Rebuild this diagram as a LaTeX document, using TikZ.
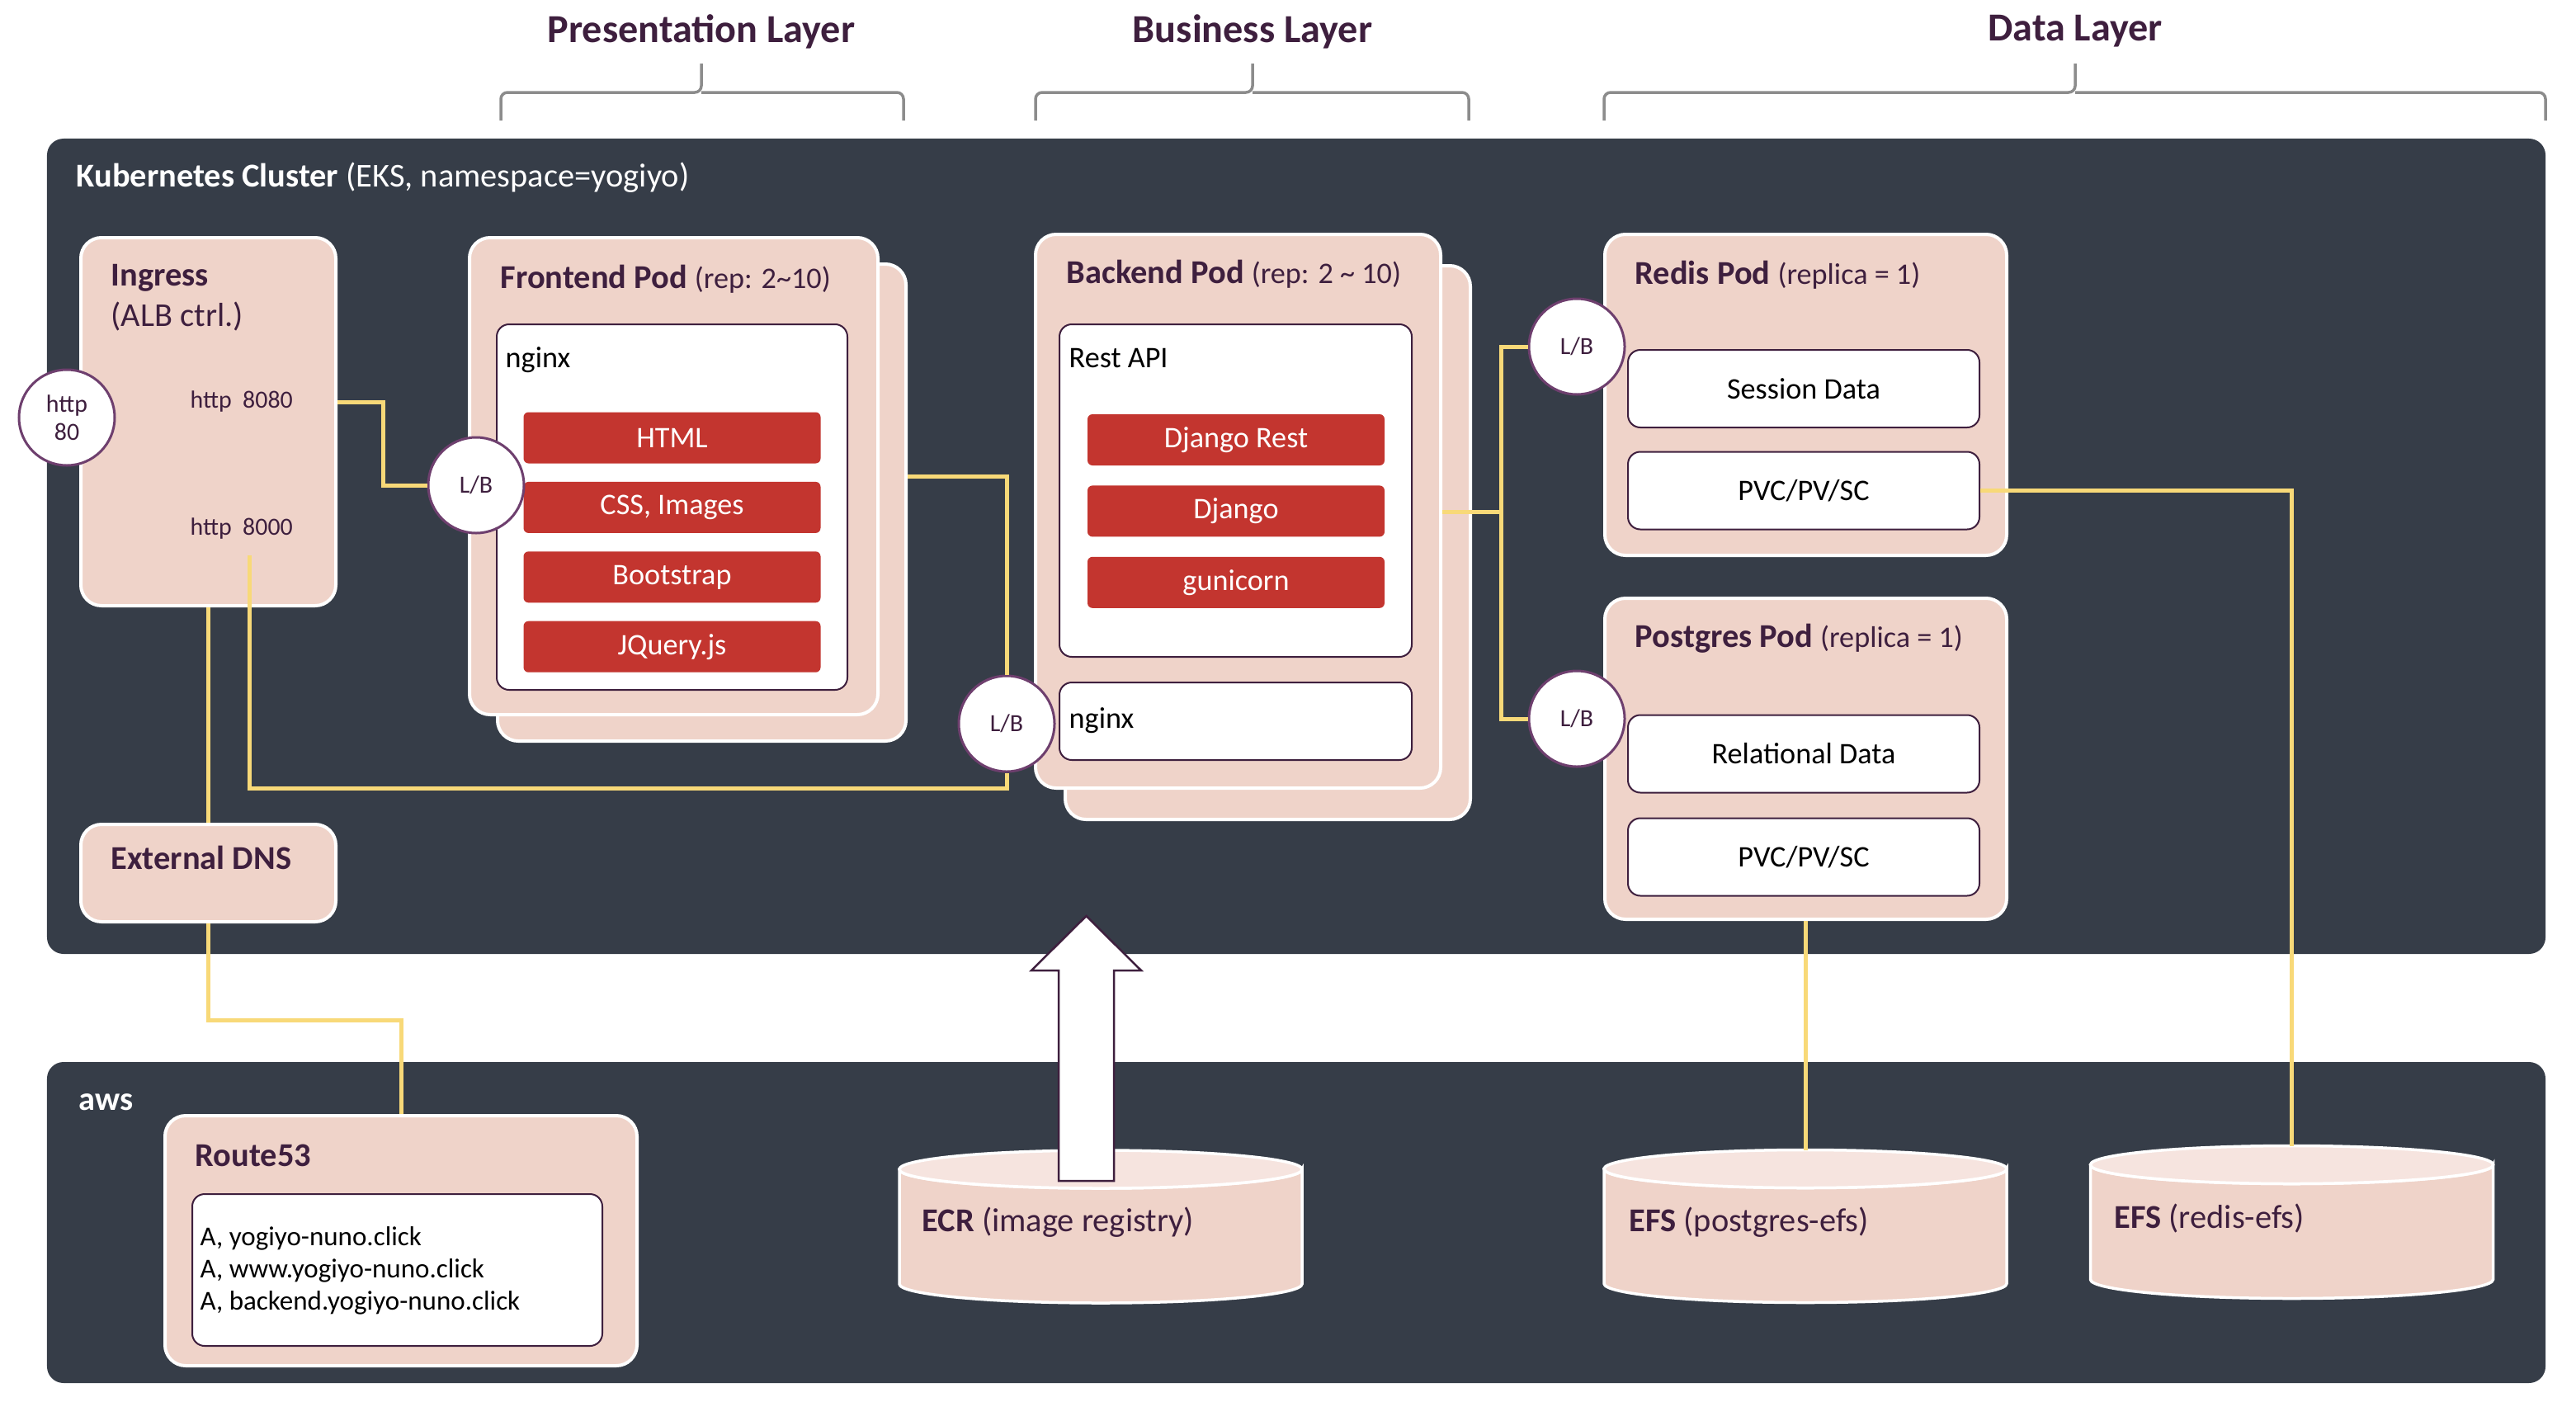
\documentclass[tikz,border=0pt]{standalone}
\usepackage{fontspec}
\setmainfont{Carlito}
\usetikzlibrary{positioning}
\usetikzlibrary{calc}

\definecolor{panelc}{HTML}{363D48}
\definecolor{podc}{HTML}{EFD3C9}
\definecolor{podtopc}{HTML}{F6E4DF}
\definecolor{plum}{HTML}{3E1F3E}
\definecolor{lbedge}{HTML}{6E3F6E}
\definecolor{wirec}{HTML}{F8D978}
\definecolor{redc}{HTML}{C3352F}
\definecolor{bracec}{HTML}{8C8C8C}

\newcommand{\fnsmall}{\fontsize{8.5}{9.6}\selectfont}
\newcommand{\fnnorm}{\fontsize{10.3}{12.4}\selectfont}
\newcommand{\fntitle}{\fontsize{11.5}{13.9}\selectfont}
\newcommand{\fnlayer}{\fontsize{13.7}{16}\selectfont}
\newcommand{\fnrec}{\fontsize{9.4}{11.1}\selectfont}

\tikzset{
panelbox/.style={fill=panelc, rounded corners=2mm, inner sep=0},
paneltext/.style={text=white, font=\fntitle, inner sep=0},
podbox/.style={fill=podc, draw=white, line width=0.4mm, rounded corners=2.5mm, inner sep=0},
podtitle/.style={text=plum, font=\fntitle, inner sep=0, align=left},
whitebox/.style={fill=white, draw=plum, line width=0.2mm, rounded corners=1.5mm, inner sep=0, font=\fnnorm},
boxtext/.style={text=black, font=\fnnorm, inner sep=0},
redbox/.style={fill=redc, rounded corners=0.6mm, text=white, font=\fnnorm,
	minimum width=36mm, minimum height=6.2mm, inner sep=0},
lb/.style={circle, draw=lbedge, fill=white, line width=0.3mm, minimum size=11.6mm,
	inner sep=0, text=plum, font=\fnsmall, align=center},
port/.style={text=plum, font=\fnsmall, inner sep=0},
wire/.style={draw=wirec, line width=0.5mm},
brace/.style={draw=bracec, line width=0.35mm, rounded corners=0.8mm},
layer/.style={text=plum, font=\fnlayer\bfseries, inner sep=0},
dbbox/.style={minimum width=48.8mm, minimum height=18.5mm, inner sep=0, outer sep=0},
dbtext/.style={text=plum, font=\fntitle, inner sep=0},
cylbody/.style={fill=podc, draw=white, line width=0.35mm},
cyltop/.style={fill=podtopc, draw=white, line width=0.35mm},
bigarrow/.style={fill=white, draw=plum, line width=0.25mm},
}

% bracket over a layer: left, tip, right
\newcommand{\layerbrace}[3]{%
	\draw[brace] (#1,14.6) -- (#1,11.2) -- (#2,11.2) -- (#2,7.7)
		(#2,11.2) -- (#3,11.2) -- (#3,14.6);}
% storage drum around a named box
\newcommand{\dbcyl}[1]{%
	\filldraw[cylbody] ([yshift=-2.3mm]#1.north west) -- ([yshift=2.3mm]#1.south west)
		arc[start angle=180, end angle=360, x radius=24.4mm, y radius=2.3mm]
		-- ([yshift=-2.3mm]#1.north east)
		arc[start angle=0, end angle=-180, x radius=24.4mm, y radius=2.3mm] -- cycle;
	\filldraw[cyltop] ([yshift=-2.3mm]#1.north) ellipse[x radius=24.4mm, y radius=2.3mm];}

\begin{document}
\begin{tikzpicture}[x=1mm, y=-1mm]
\useasboundingbox (0,0) rectangle (312.2,169.8);

%
\node[layer] (prestitle) at (85.0,3.8) {Presentation Layer};
\node[layer] (bustitle) at (151.8,3.8) {Business Layer};
\node[layer] (datatitle) at (251.5,3.8) {Data Layer};
\layerbrace{60.7}{85.0}{109.5}
\layerbrace{125.5}{151.8}{178.0}
\layerbrace{194.4}{251.5}{308.5}

%
\node[panelbox, minimum width=302.8mm, minimum height=98.8mm] (k8s) at (157.1,66.2) {};
\node[panelbox, minimum width=302.8mm, minimum height=38.9mm] (aws) at (157.1,148.15) {};
\node[paneltext, anchor=west] (k8stitle) at (9.2,21.5) {\textbf{Kubernetes Cluster} (EKS, namespace=yogiyo)};
\node[paneltext, anchor=west] (awstitle) at (9.5,133.6) {\textbf{aws}};

%
\node[podbox, minimum width=30.9mm, minimum height=44.6mm] (ingress) at (25.25,51.1) {};
\node[podtitle, anchor=west] (ingresstitle) at (13.4,36.1) {\textbf{Ingress}\\(ALB ctrl.)};
\node[port, anchor=west] (p8080) at (23.0,48.7) {http\ \ 8080};
\node[port, anchor=west] (p8000) at (23.0,64.1) {http\ \ 8000};
\coordinate (p8000out) at (30.2,67.3);
\node[lb] (http80) at (8.1,50.6) {http\\80};
\node[podbox, minimum width=30.9mm, minimum height=11.8mm] (dns) at (25.25,105.8) {};
\node[podtitle, anchor=west] (dnstitle) at (13.4,103.9) {\textbf{External DNS}};

%
\node[podbox, minimum width=49.5mm, minimum height=57.8mm] (feback) at (85.05,60.9) {};
\node[podbox, minimum width=49.5mm, minimum height=57.8mm] (fefront) at (81.65,57.7) {};
\node[podtitle, anchor=west] (fetitle) at (60.6,33.8) {\textbf{Frontend Pod} {\fnnorm(rep: 2\textasciitilde10)}};
\node[whitebox, minimum width=42.5mm, minimum height=44.3mm] (fenginx) at (81.45,61.45) {};
\node[boxtext, anchor=west] (fenginxtext) at (61.2,43.6) {nginx};
\node[redbox] (html) at (81.45,53.05) {HTML};
\node[redbox, below=2.1mm of html] (css) {CSS, Images};
\node[redbox, below=2.1mm of css] (bootstrap) {Bootstrap};
\node[redbox, below=2.1mm of bootstrap] (jquery) {JQuery.js};
\node[lb] (lbf) at (57.7,58.8) {L/B};

%
\node[podbox, minimum width=49.1mm, minimum height=67.1mm] (bkback) at (153.65,65.75) {};
\node[podbox, minimum width=49.1mm, minimum height=67.1mm] (bkfront) at (150.05,61.95) {};
\node[podtitle, anchor=west] (bktitle) at (129.2,33.2) {\textbf{Backend Pod} {\fnnorm(rep: 2 \textasciitilde{} 10)}};
\node[whitebox, minimum width=42.7mm, minimum height=40.3mm] (restapi) at (149.75,59.45) {};
\node[boxtext, anchor=west] (restapitext) at (129.5,43.4) {Rest API};
\node[redbox] (djrest) at (149.8,53.3) {Django Rest};
\node[redbox, below=2.3mm of djrest] (django) {Django};
\node[redbox, below=2.3mm of django] (gunicorn) {gunicorn};
\node[whitebox, minimum width=42.7mm, minimum height=9.4mm] (bknginx) at (149.75,87.4) {};
\node[boxtext, anchor=west] (bknginxtext) at (129.5,87.3) {nginx};
\node[lb] (lbb) at (122.0,87.7) {L/B};

%
\node[podbox, minimum width=48.7mm, minimum height=38.9mm] (redis) at (218.85,47.85) {};
\node[podtitle, anchor=west] (redistitle) at (198.1,33.3) {\textbf{Redis Pod} {\fnnorm(replica = 1)}};
\node[whitebox, minimum width=42.6mm, minimum height=9.4mm] (session) at (218.6,47.1) {Session Data};
\node[whitebox, minimum width=42.6mm, minimum height=9.4mm] (rpvc) at (218.6,59.45) {PVC/PV/SC};
\node[lb] (lbr) at (191.1,42.0) {L/B};

\node[podbox, minimum width=48.7mm, minimum height=38.9mm] (pgpod) at (218.85,91.95) {};
\node[podtitle, anchor=west] (pgtitle) at (198.1,77.4) {\textbf{Postgres Pod} {\fnnorm(replica = 1)}};
\node[whitebox, minimum width=42.6mm, minimum height=9.4mm] (relational) at (218.6,91.35) {Relational Data};
\node[whitebox, minimum width=42.6mm, minimum height=9.4mm] (pgpvc) at (218.6,103.85) {PVC/PV/SC};
\node[lb] (lbp) at (191.1,87.1) {L/B};

%
\node[podbox, minimum width=57.2mm, minimum height=30.3mm] (route) at (48.6,150.35) {};
\node[podtitle, anchor=west] (routetitle) at (23.6,140.0) {\textbf{Route53}};
\node[whitebox, minimum width=49.7mm, minimum height=18.4mm] (records) at (48.15,153.9) {};
\node[boxtext, font=\fnrec, align=left, anchor=west] (recordtext) at (24.2,154.0)
	{A, yogiyo-nuno.click\\A, www.yogiyo-nuno.click\\A, backend.yogiyo-nuno.click};

%
\node[dbbox] (ecr) at (133.4,148.65) {};
\node[dbbox] (efsp) at (218.8,148.6) {};
\node[dbbox] (efsr) at (277.75,148.1) {};
\dbcyl{ecr}
\dbcyl{efsp}
\dbcyl{efsr}
\node[dbtext, anchor=west] (ecrtext) at (111.7,148.1) {\textbf{ECR} (image registry)};
\node[dbtext, anchor=west] (efsptext) at (197.4,148.1) {\textbf{EFS} (postgres-efs)};
\node[dbtext, anchor=west] (efsrtext) at (256.2,147.6) {\textbf{EFS} (redis-efs)};
\draw[bigarrow, shift={(ecr.north)}] (-5.1,3.7) -- (-5.1,-21.8) -- (-8.4,-21.8) -- (-1.75,-28.4)
	-- (4.9,-21.8) -- (1.6,-21.8) -- (1.6,3.7) -- cycle;

%
\coordinate (bjoint) at (181.9,62.0);
\draw[wire] (ingress.east |- p8080) -- ++(5.5,0) |- (lbf.west);
\draw[wire] (p8000out) -- ++(0,28.2) -| (lbb.south);
\draw[wire] ([yshift=3.15mm]feback.east) -| (lbb.north);
\draw[wire] (bkfront.east |- bjoint) -- (bjoint);
\draw[wire] (lbr.west) -| (bjoint) |- (lbp.west);
\draw[wire] (rpvc.east) -| (efsr.north);
\draw[wire] (pgpod.south) -- (pgpod.south |- efsp.north);
\draw[wire] (ingress.south) -- (ingress.south |- dns.north);
\draw[wire] (dns.south) -- ++(0,11.7) -| (route.north);
\end{tikzpicture}
\end{document}
